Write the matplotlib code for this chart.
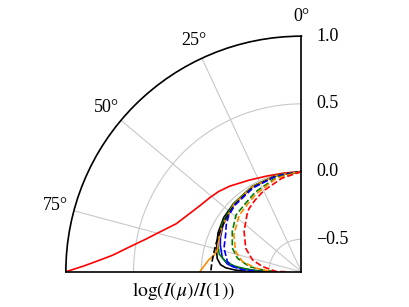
import numpy as np
import matplotlib
matplotlib.use("Agg")
import matplotlib.pyplot as plt

plt.rcParams['font.family'] = ['Liberation Serif', 'DejaVu Serif']
plt.rcParams['mathtext.fontset'] = 'stix'

# angle (deg) and log(I(mu)/I(1)) for each curve
red_th = [0, 10, 20, 30, 40, 46, 51, 57, 63, 69, 74, 78, 82, 85, 87, 88.5, 90]
red_r = [0, 0.0, 0.012, 0.04, 0.085, 0.112, 0.13, 0.155, 0.195, 0.25, 0.34, 0.43, 0.55, 0.66, 0.77, 0.87, 1.0]

blk_th = [0, 15, 30, 45, 55, 65, 75, 81, 85, 87, 88.5, 89.5, 90]
blk_r = [0, -0.005, -0.015, -0.03, -0.04, -0.06, -0.09, -0.11, -0.14, -0.18, -0.25, -0.33, -0.5]

blu_th = [0, 15, 30, 45, 59, 67, 72, 80, 84, 85.7, 87.8, 89.3, 90]
blu_r = [0, -0.005, -0.015, -0.035, -0.065, -0.09, -0.11, -0.147, -0.19, -0.23, -0.35, -0.45, -0.52]

grn_th = [0, 15, 30, 45, 59, 72, 78, 82.3, 85, 86.5, 88.5, 90]
grn_r = [0, -0.005, -0.012, -0.03, -0.055, -0.09, -0.12, -0.175, -0.24, -0.3, -0.4, -0.55]

org_th = [0, 15, 30, 45, 60, 70, 75.5, 79, 82.7, 86, 88.9, 90]
org_r = [0, -0.005, -0.015, -0.035, -0.065, -0.088, -0.098, -0.085, -0.05, -0.025, 0.0, 0.01]

blkd_th = [0, 15, 30, 45, 56, 66, 72, 78, 84, 90]
blkd_r = [0, -0.008, -0.02, -0.04, -0.058, -0.072, -0.076, -0.078, -0.075, -0.07]

blud_th = [0, 15, 30, 45, 52, 58, 64, 73, 82.2, 86, 88, 89.5, 90]
blud_r = [0, -0.01, -0.025, -0.045, -0.06, -0.085, -0.117, -0.142, -0.188, -0.24, -0.305, -0.42, -0.5]

grnd_th = [0, 15, 30, 38, 49, 60, 71, 78, 84.3, 88.4, 90]
grnd_r = [0, -0.02, -0.06, -0.085, -0.1, -0.15, -0.2, -0.257, -0.352, -0.478, -0.55]

orgd_th = [0, 15, 30, 38, 48, 61.5, 73, 80.2, 85.5, 89.5, 90]
orgd_r = [0, -0.025, -0.075, -0.1, -0.12, -0.172, -0.232, -0.298, -0.403, -0.515, -0.56]

redd_th = [0, 12, 25, 33, 40, 44, 55, 67.2, 76.5, 82.4, 89.4, 90]
redd_r = [0, -0.035, -0.08, -0.11, -0.135, -0.16, -0.223, -0.294, -0.369, -0.45, -0.553, -0.64]

theta_ticks = [0, 25, 50, 75]
r_ticks = [-0.5, 0.0, 0.5, 1.0]
r_labels = ['\u22120.5', '0.0', '0.5', '1.0']

fig = plt.figure(figsize=(4.09, 3.07), dpi=100)
ax = fig.add_axes([0.161, 0.114, 0.576, 0.769], projection='polar')
ax.set_theta_zero_location('N')
ax.set_theta_direction(1)
ax.set_thetamin(0)
ax.set_thetamax(90)
ax.set_rlim(-0.74, 1.0)

series = [
    (red_th, red_r, 'red', '-'),
    (blk_th, blk_r, 'black', '-'),
    (blu_th, blu_r, 'blue', '-'),
    (grn_th, grn_r, 'green', '-'),
    (org_th, org_r, 'darkorange', '-'),
    (blkd_th, blkd_r, 'black', '--'),
    (blud_th, blud_r, 'blue', '--'),
    (grnd_th, grnd_r, 'green', '--'),
    (orgd_th, orgd_r, 'darkorange', '--'),
    (redd_th, redd_r, 'red', '--'),
]
for th, r, c, ls in series:
    ax.plot(np.deg2rad(th), r, color=c, ls=ls, lw=1.2)

ax.set_thetagrids(theta_ticks, [f'{t}\u00b0' for t in theta_ticks])
ax.set_rticks(r_ticks)
ax.set_yticklabels(r_labels)
ax.tick_params(axis='x', labelsize=13)
ax.tick_params(axis='y', labelsize=13, pad=7)
ax.grid(True, color='#c8c8c8', lw=0.8)
for s in ax.spines.values():
    s.set_linewidth(1.2)
ax.set_xlabel(r'$\log(I(\mu)/I(1))$', fontsize=14, labelpad=6)

fig.savefig('out.png', dpi=100)
